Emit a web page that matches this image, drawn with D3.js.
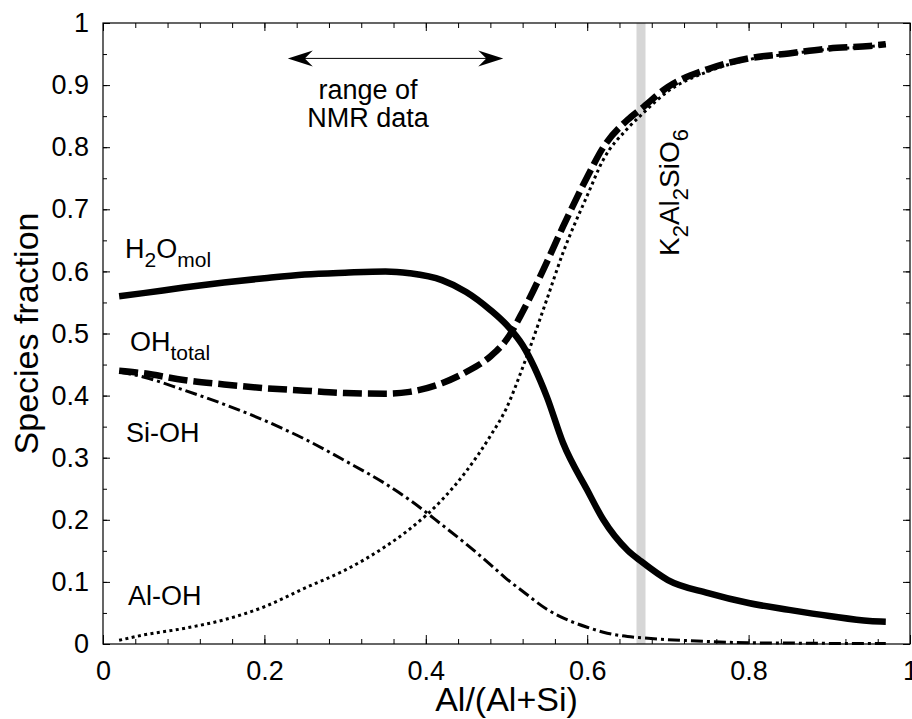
<!DOCTYPE html>
<html lang="en">
<head>
<meta charset="UTF-8">
<title>Species fraction</title>
<script src="https://d3js.org/d3.v7.min.js"></script>
<style>
  body, html { margin: 0; padding: 0; background: #fff; overflow: hidden; }
  svg { font-family: "Liberation Sans", Arial, sans-serif; }
  .axis path, .axis line { stroke: #000; }
  .axis text { font-size: 27px; fill: #000; }
</style>
</head>
<body>
<div id="chart"></div>
<script>
// Al/(Al+Si) sample points
const xs = [0.02, 0.05, 0.1, 0.15, 0.2, 0.25, 0.3, 0.35, 0.38, 0.42, 0.45, 0.48, 0.5, 0.52,
            0.55, 0.57, 0.6, 0.62, 0.65, 0.667, 0.7, 0.75, 0.8, 0.85, 0.9, 0.95, 0.97];

const h2oMol = [0.560, 0.565, 0.574, 0.582, 0.589, 0.595, 0.598, 0.600, 0.597, 0.586, 0.567, 0.538, 0.514, 0.481,
                0.398, 0.324, 0.248, 0.200, 0.151, 0.133, 0.103, 0.082, 0.066, 0.055, 0.045, 0.037, 0.036];
const ohTotal = [0.440, 0.436, 0.425, 0.418, 0.412, 0.408, 0.404, 0.403, 0.406, 0.420, 0.438, 0.463, 0.490, 0.535,
                 0.615, 0.672, 0.752, 0.800, 0.844, 0.862, 0.897, 0.926, 0.943, 0.951, 0.959, 0.963, 0.966];
const siOH = [0.438, 0.430, 0.409, 0.386, 0.360, 0.330, 0.295, 0.258, 0.232, 0.192, 0.161, 0.128, 0.105, 0.085,
              0.056, 0.042, 0.027, 0.019, 0.012, 0.010, 0.007, 0.004, 0.002, 0.0015, 0.001, 0.001, 0.001];
const alOH = [0.006, 0.0145, 0.025, 0.039, 0.060, 0.090, 0.119, 0.157, 0.185, 0.232, 0.278, 0.335, 0.380, 0.445,
              0.555, 0.630, 0.722, 0.780, 0.830, 0.852, 0.890, 0.922, 0.941, 0.950, 0.958, 0.962, 0.965];

const xTicks = [0, 0.2, 0.4, 0.6, 0.8, 1];
const yTicks = [0, 0.1, 0.2, 0.3, 0.4, 0.5, 0.6, 0.7, 0.8, 0.9, 1];

const nmrRange = [0.229, 0.496];   // arrow extent
const k2Composition = 2 / 3;       // K2Al2SiO6

const width = 912, height = 719;
const margin = { left: 103, right: 2, top: 23, bottom: 75 };
const x = d3.scaleLinear().domain([0, 1]).range([margin.left, width - margin.right]);
const y = d3.scaleLinear().domain([0, 1]).range([height - margin.bottom, margin.top]);

const svg = d3.select('#chart').append('svg')
    .attr('width', width)
    .attr('height', height);

// gray marker for K2Al2SiO6
svg.append('line')
    .attr('x1', x(k2Composition)).attr('x2', x(k2Composition))
    .attr('y1', y(0)).attr('y2', y(1))
    .attr('stroke', '#d6d6d6')
    .attr('stroke-width', 9);

// minor + major ticks, all inward, mirrored on top / right
const xMinor = d3.range(0, 1.0001, 0.04);
const yMinor = d3.range(0, 1.0001, 0.05);

function ticks(axis, values, size, pos, labels, pad) {
    const g = svg.append('g').attr('class', 'axis').attr('transform', pos)
        .call(axis.tickValues(values).tickSize(-size).tickPadding(pad || 3)
            .tickFormat(labels ? d3.format('') : ''));
    g.select('.domain').remove();
}

ticks(d3.axisBottom(x), xMinor, 5, `translate(0,${y(0)})`);
ticks(d3.axisTop(x), xMinor, 5, `translate(0,${y(1)})`);
ticks(d3.axisLeft(y), yMinor, 4, `translate(${x(0)},0)`);
ticks(d3.axisRight(y), yMinor, 4, `translate(${x(1)},0)`);

ticks(d3.axisBottom(x), xTicks, 9, `translate(0,${y(0)})`, true, 17);
ticks(d3.axisTop(x), xTicks, 8, `translate(0,${y(1)})`);
ticks(d3.axisLeft(y), yTicks, 7, `translate(${x(0)},0)`, true, 14);
ticks(d3.axisRight(y), yTicks, 7, `translate(${x(1)},0)`);

// frame
svg.append('rect')
    .attr('x', x(0)).attr('y', y(1))
    .attr('width', x(1) - x(0)).attr('height', y(0) - y(1))
    .attr('fill', 'none').attr('stroke', '#000').attr('stroke-width', 1.2);

// curves
const line = d3.line()
    .x(d => x(d[0]))
    .y(d => y(d[1]))
    .curve(d3.curveMonotoneX);

const series = [
    { values: alOH, width: 3, dash: '3,3.4' },
    { values: siOH, width: 3, dash: '12,4,3,4' },
    { values: ohTotal, width: 6.5, dash: '19,6' },
    { values: h2oMol, width: 6.5, dash: null }
];

series.forEach(s => {
    svg.append('path')
        .datum(xs.map((v, i) => [v, s.values[i]]))
        .attr('d', line)
        .attr('fill', 'none')
        .attr('stroke', '#000')
        .attr('stroke-width', s.width)
        .attr('stroke-dasharray', s.dash);
});

// curve labels (main text + subscripts)
function label(px, py, parts, transform) {
    const t = svg.append('text')
        .attr('x', px).attr('y', py)
        .attr('font-size', 27);
    if (transform) t.attr('transform', transform);
    let prev = 0;
    parts.forEach(p => {
        const shift = p.sub ? 9 : 0;
        t.append('tspan')
            .attr('font-size', p.sub ? 21 : 27)
            .attr('dy', shift - prev)
            .text(p.text);
        prev = shift;
    });
    return t;
}

label(125, 258, [{ text: 'H' }, { text: '2', sub: true }, { text: 'O' }, { text: 'mol', sub: true }]);
label(130, 351, [{ text: 'OH' }, { text: 'total', sub: true }]);
label(126, 442, [{ text: 'Si-OH' }]);
label(128, 605, [{ text: 'Al-OH' }]);

label(0, 0, [{ text: 'K' }, { text: '2', sub: true }, { text: 'Al' }, { text: '2', sub: true },
             { text: 'SiO' }, { text: '6', sub: true }],
      `translate(${x(k2Composition) + 38},256) rotate(-90)`)
    .selectAll('tspan').attr('font-size', function() { return +d3.select(this).attr('font-size') + 1; });

// NMR range arrow
const arrowY = y(0.943);
const ax0 = x(nmrRange[0]), ax1 = x(nmrRange[1]);
svg.append('line')
    .attr('x1', ax0 + 10).attr('x2', ax1 - 10)
    .attr('y1', arrowY).attr('y2', arrowY)
    .attr('stroke', '#000').attr('stroke-width', 1);
function head(tip, dir) {
    const L = 25, H = 8, back = 17;
    svg.append('path')
        .attr('d', `M${tip},${arrowY} L${tip + dir * L},${arrowY - H} L${tip + dir * back},${arrowY} L${tip + dir * L},${arrowY + H} Z`)
        .attr('fill', '#000');
}
head(ax0, 1);
head(ax1, -1);

svg.append('text')
    .attr('x', 368).attr('y', 99)
    .attr('text-anchor', 'middle').attr('font-size', 27)
    .text('range of');
svg.append('text')
    .attr('x', 368).attr('y', 127)
    .attr('text-anchor', 'middle').attr('font-size', 27)
    .text('NMR data');

// axis titles
svg.append('text')
    .attr('x', (x(0) + x(1)) / 2).attr('y', 711)
    .attr('text-anchor', 'middle').attr('font-size', 34)
    .text('Al/(Al+Si)');
svg.append('text')
    .attr('transform', `translate(38,${(y(0) + y(1)) / 2}) rotate(-90)`)
    .attr('text-anchor', 'middle').attr('font-size', 34)
    .text('Species fraction');
</script>
</body>
</html>
